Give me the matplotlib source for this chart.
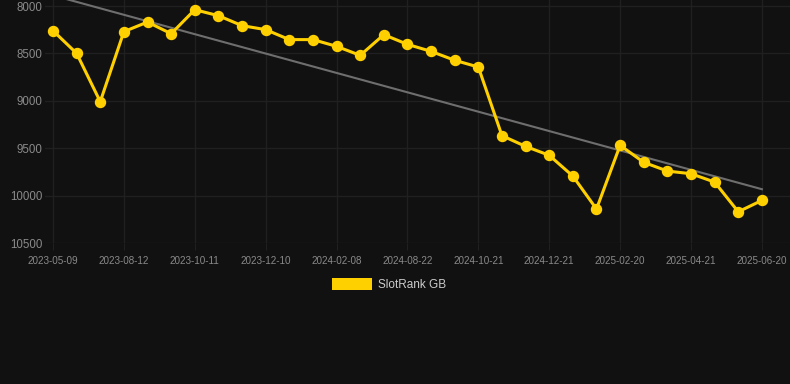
import numpy as np
import matplotlib
matplotlib.use("Agg")
import matplotlib.pyplot as plt
from matplotlib.patches import Rectangle

tick_labels = ["2023-05-09", "2023-08-12", "2023-10-11", "2023-12-10", "2024-02-08",
               "2024-08-22", "2024-10-21", "2024-12-21", "2025-02-20", "2025-04-21",
               "2025-06-20"]
ranks = [8260, 8499, 9008, 8270, 8169, 8292, 8039, 8102, 8207, 8249, 8354, 8354,
         8425, 8520, 8302, 8404, 8478, 8572, 8643, 9366, 9479, 9573, 9792, 10139,
         9468, 9647, 9739, 9767, 9855, 10168, 10048]
yticks = [8000, 8500, 9000, 9500, 10000, 10500]
series_label = "SlotRank GB"
label_step = 3

BG = "#111111"
GRID = "#202020"
TICK = "#8a8a8a"
YEL = "#FFD000"

W, H = 790, 384
fig = plt.figure(figsize=(W / 100, H / 100), dpi=100, facecolor=BG)
ax = fig.add_axes([45 / W, 1 - 243.3 / H, 1 - 45 / W, 243.3 / H])
ax.set_facecolor(BG)

x = np.arange(len(ranks))
coef = np.polyfit(x, ranks, 1)
trend = np.polyval(coef, x)

ax.plot(x, trend, color="#6e6e6e", lw=1.5, zorder=2, clip_on=False)
ax.plot(x, ranks, color=YEL, lw=2.2, marker="o", ms=7.2, mfc=YEL, mec=YEL,
        zorder=3, clip_on=False, label=series_label)

px = 23.63
ax.set_xlim(-8 / px, (790 - 53) / px)
top_val = 8000 - 6 / 94.9 * 1000
ax.set_ylim(10500, top_val)
ax.set_yticks(yticks)
ax.set_yticklabels([str(v) for v in yticks])
tick_idx = list(range(0, len(ranks), label_step))
ax.set_xticks(tick_idx)
ax.set_xticklabels(tick_labels)

for s in ax.spines.values():
    s.set_visible(False)
ax.grid(True, color=GRID, lw=1.0, zorder=0)
ax.tick_params(axis="y", length=0, pad=2, labelsize=8.3, labelcolor=TICK)
ax.tick_params(axis="x", length=5, color=GRID, pad=4, labelsize=7.1, labelcolor=TICK)
for t in ax.get_yticklabels() + ax.get_xticklabels():
    t.set_fontfamily(["Liberation Sans", "DejaVu Sans"])

# legend
fig.patches.append(Rectangle((332 / W, 1 - 290 / H), 40 / W, 12 / H,
                             transform=fig.transFigure, facecolor=YEL, edgecolor="none"))
fig.text(378 / W, 1 - 285 / H, series_label, color="#cccccc", fontsize=8.5,
         va="center", ha="left", family=["Liberation Sans", "DejaVu Sans"])

fig.savefig("out.png", dpi=100, facecolor=BG)
